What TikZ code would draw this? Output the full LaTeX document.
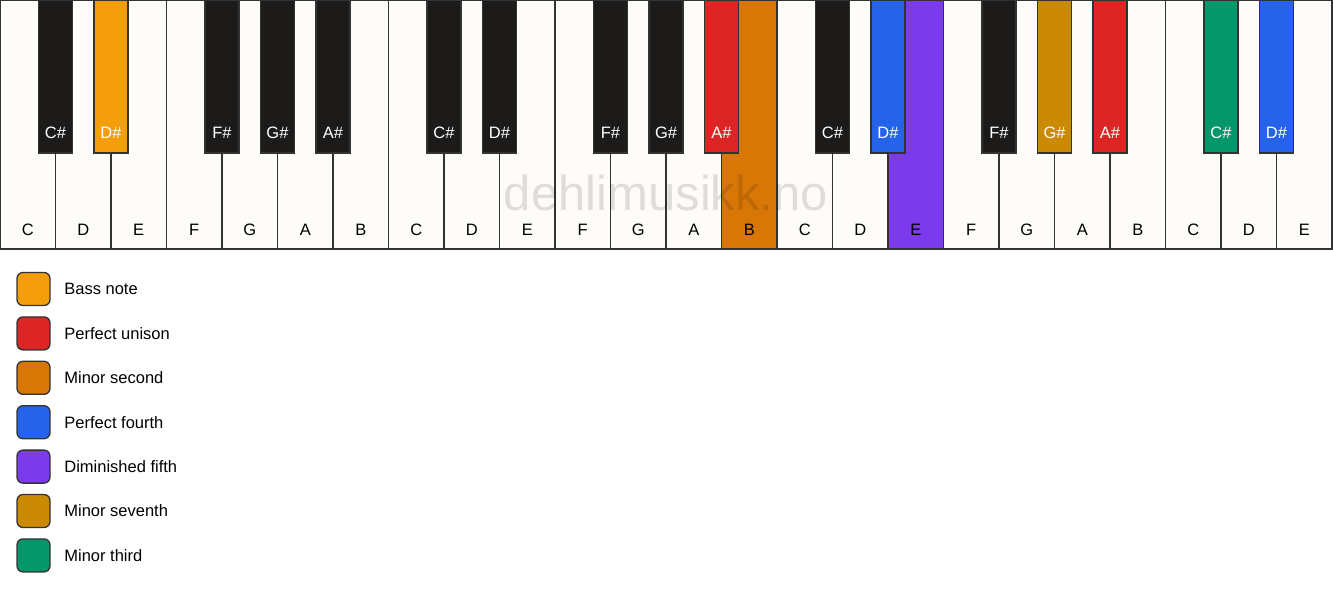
\documentclass[tikz,border=0pt]{standalone}
\usepackage{fontspec}
\setmainfont{Liberation Sans}
\usetikzlibrary{positioning}

\definecolor{keywhite}{HTML}{FDFCF9}
\definecolor{keyblack}{HTML}{1C1B1A}
\definecolor{keyline}{HTML}{333333}
\definecolor{bassnote}{HTML}{F59E0B}
\definecolor{unison}{HTML}{DC2626}
\definecolor{minsecond}{HTML}{D97706}
\definecolor{perffourth}{HTML}{2563EB}
\definecolor{dimfifth}{HTML}{7C3AED}
\definecolor{minseventh}{HTML}{CA8A04}
\definecolor{minthird}{HTML}{059669}

\tikzset{
  whitekey/.style={draw=keyline, line width=1.3pt, minimum width=55.5pt, minimum height=249pt, inner sep=0pt, outer sep=0pt},
  blackkey/.style={draw=keyline, line width=1.3pt, minimum width=34pt, minimum height=153pt, inner sep=0pt, outer sep=0pt},
  keylabel/.style={font=\fontsize{16.5}{18}\selectfont, text height=11.8pt, text depth=0pt, inner sep=0pt},
  swatch/.style={draw=keyline, line width=1.3pt, rounded corners=6pt, minimum size=33pt, inner sep=0pt},
  legendtext/.style={font=\fontsize{16.5}{18}\selectfont, text height=11.8pt, text depth=0pt, inner sep=0pt, anchor=west},
}

\begin{document}
\begin{tikzpicture}[x=1pt,y=-1pt]
    \useasboundingbox[fill=white] (0,0) rectangle (1333,594);

    % white keys
    \foreach \n/\c [count=\i from 0] in {C/keywhite,D/keywhite,E/keywhite,F/keywhite,G/keywhite,A/keywhite,B/keywhite,
      C/keywhite,D/keywhite,E/keywhite,F/keywhite,G/keywhite,A/keywhite,B/minsecond,
      C/keywhite,D/keywhite,E/dimfifth,F/keywhite,G/keywhite,A/keywhite,B/keywhite,
      C/keywhite,D/keywhite,E/keywhite}{%
      \node[whitekey, fill=\c] (w\i) at (27.75+55.5*\i,124.5) {};
      \node[keylabel] (wl\i) at (27.75+55.5*\i,230) {\n};
    }

    \node[font=\fontsize{49}{54}\selectfont, text=black, text opacity=0.12, inner sep=0pt] (mark) at (666,193) {dehlimusikk.no};

    % black keys, centred on the white key borders
    \foreach \w/\n/\c in {0/C/keyblack,1/D/bassnote,3/F/keyblack,4/G/keyblack,5/A/keyblack,
      7/C/keyblack,8/D/keyblack,10/F/keyblack,11/G/keyblack,12/A/unison,
      14/C/keyblack,15/D/perffourth,17/F/keyblack,18/G/minseventh,19/A/unison,
      21/C/minthird,22/D/perffourth}{%
      \node[blackkey, fill=\c] (b\w) at (55.5+55.5*\w,76.5) {};
      \node[keylabel, text=white] (bl\w) at (55.5+55.5*\w,133) {\n\#};
    }

    % legend
    \foreach \c/\t [count=\k from 0] in {bassnote/Bass note,unison/Perfect unison,minsecond/Minor second,
      perffourth/Perfect fourth,dimfifth/Diminished fifth,minseventh/Minor seventh,minthird/Minor third}{%
      \node[swatch, fill=\c] (s\k) at (33.5,289+44.4*\k) {};
      \node[legendtext, right=13.5pt of s\k] (t\k) {\t};
    }
\end{tikzpicture}
\end{document}
